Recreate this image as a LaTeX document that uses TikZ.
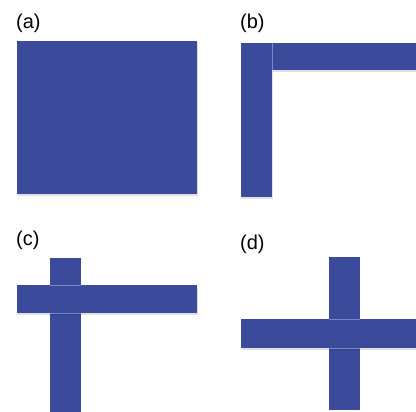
\documentclass[tikz,border=0pt]{standalone}
\usepackage{fontspec}
\setmainfont{Liberation Sans}
\definecolor{barblue}{RGB}{59,74,155}
\definecolor{edgeblue}{RGB}{120,135,200}
\tikzset{
  bar/.style={fill=barblue},
  shade/.style={fill=black,opacity=0.12},
  seam/.style={draw=edgeblue,line width=0.8pt},
  lab/.style={anchor=base west,inner sep=0pt,font=\fontsize{20}{22}\selectfont}
}
\begin{document}
\begin{tikzpicture}[x=1pt,y=-1pt]
\useasboundingbox (0,0) rectangle (416,412);
% labels
\node[lab] (la) at (16,29) {(a)};
\node[lab] (lb) at (240,29) {(b)};
\node[lab] (lc) at (16,246) {(c)};
\node[lab] (ld) at (240,250) {(d)};
% (a)
\fill[shade] (18,43) rectangle (198,196);
\fill[bar] (17,41) rectangle (197,194);
% (b)
\fill[shade] (242,45) rectangle (273,199);
\fill[shade] (273,45) rectangle (416,72);
\fill[bar] (241,43) rectangle (272,197);
\fill[bar] (272,43) rectangle (416,70);
\draw[seam] (272,43.5) -- (272,70);
% (c)
\fill[bar] (50,258) rectangle (81,412);
\fill[shade] (18,287) rectangle (198,315);
\fill[bar] (17,285) rectangle (197,313);
\draw[seam] (50,285) -- (81,285);
\draw[seam] (50,313) -- (81,313);
% (d)
\fill[bar] (329,257) rectangle (360,410);
\fill[shade] (242,321) rectangle (416,350);
\fill[bar] (241,319) rectangle (416,348);
\draw[seam] (329,319) -- (360,319);
\draw[seam] (329,348) -- (360,348);
\end{tikzpicture}
\end{document}
